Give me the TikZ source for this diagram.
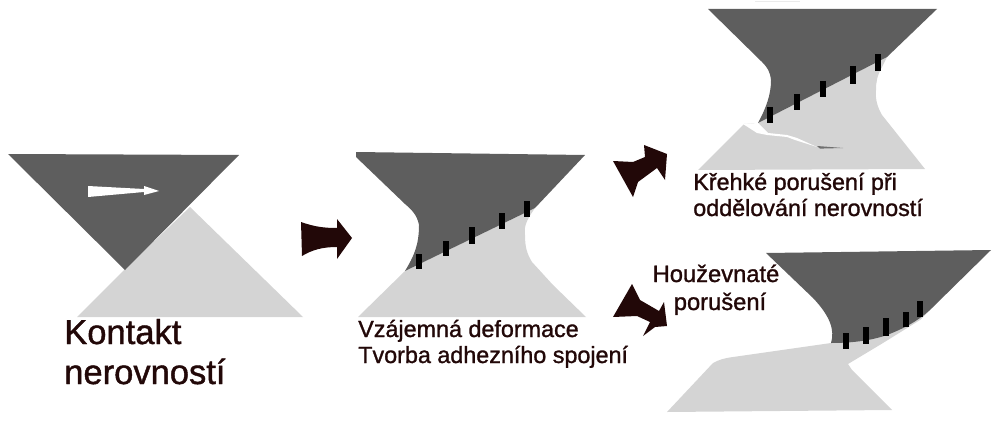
\documentclass[tikz,border=0pt]{standalone}
\usepackage{fontspec}
\setmainfont{Liberation Sans}
\newfontfamily\labfont[FakeBold=1.2]{Liberation Sans}
\definecolor{darkrock}{HTML}{5E5E5E}
\definecolor{lightrock}{HTML}{D4D4D4}
\definecolor{inkbrown}{HTML}{220808}
\tikzset{
  darkpart/.style={fill=darkrock,draw=none},
  lightpart/.style={fill=lightrock,draw=none},
  bigarrow/.style={fill=inkbrown,draw=none},
  tick/.style={draw=black,line width=3.9pt},
  lab/.style={anchor=base west,inner sep=0pt,text=inkbrown,font=\labfont\fontsize{17.5pt}{20pt}\selectfont},
  biglab/.style={anchor=base west,inner sep=0pt,text=inkbrown,font=\labfont\fontsize{25.9pt}{30pt}\selectfont},
  midlab/.style={anchor=base,inner sep=0pt,text=inkbrown,font=\labfont\fontsize{17.8pt}{20pt}\selectfont}
}
\begin{document}
\begin{tikzpicture}[x=0.75pt,y=-0.75pt]
\useasboundingbox (0,0) rectangle (1005,424);
% --- faint mark at the top edge
\draw[draw=black!8,line width=0.8pt] (755,1.5) -- (800,1.5);
% --- contact
\fill[lightpart] (190,207) -- (125,269) -- (77,317) -- (303,317) -- cycle;
\fill[darkpart] (8,154) -- (239,155) -- (125,270) -- cycle;
\fill[white] (88,186) -- (144,189) -- (144,186) -- (159,191) -- (144,195) -- (144,192) -- (88,197) -- cycle;
% --- arrow 1
\fill[bigarrow] (301,222) .. controls (315,227) and (325,228) .. (337,228) -- (337,219) -- (352,238) -- (337,259) -- (337,247) .. controls (322,247) and (312,250) .. (302,256) -- cycle;
% --- deformation
\fill[lightpart] (405,271) -- (535,208) .. controls (525,222) and (524,228) .. (525,235) .. controls (525,247) and (527,254) .. (532,262) -- (553,285) -- (586,317) -- (358,317) -- cycle;
\fill[darkpart] (356,152) -- (585,155) -- (535,208) -- (405,271) .. controls (414,256) and (419,245) .. (419,225) .. controls (417,215) and (412,210) .. (405,204) -- (356,157) -- cycle;
\draw[tick] (419,254) -- (419,269);
\draw[tick] (446,241) -- (446,256);
\draw[tick] (472,227) -- (472,244);
\draw[tick] (502,213) -- (502,229);
\draw[tick] (527,201) -- (527,217);
% --- arrow 2
\fill[bigarrow] (613,161) -- (633,162) -- (645,157) -- (644,145) -- (667,154) -- (665,180) -- (657,168) -- (638,182) -- (633,197) -- cycle;
% --- brittle
\fill[lightpart] (758,123) -- (887,57) -- (882,67) .. controls (877,76) and (876,82) .. (876,90) .. controls (875,100) and (878,108) .. (882,115) -- (925,169) -- (698,170) -- (744,124) -- cycle;
\fill[white] (743,124) -- (758,123) -- (768,133) -- (787,135) -- (797,138) -- (817,147) -- (795,140) -- (787,137) -- (767,135) -- (757,133) -- cycle;
\fill[darkrock!85!lightrock] (817,146) -- (843,148) -- (820,148.6) -- cycle;
\fill[darkpart] (708,9) -- (937,9) -- (887,57) -- (758,123) .. controls (766,108) and (771,95) .. (771,80) .. controls (770,72) and (768,68) .. (762,62) -- cycle;
\draw[tick] (770,107) -- (770,123);
\draw[tick] (797,94) -- (797,110);
\draw[tick] (823,81) -- (823,97);
\draw[tick] (853,66) -- (853,84);
\draw[tick] (878,54) -- (878,71);
% --- arrow 3
\fill[bigarrow] (632,284) -- (640,300) -- (659,311) -- (664,302) -- (667,326) -- (655,327) -- (643,336) -- (650,322) -- (637,316) -- (613,317) -- cycle;
% --- ductile
\fill[lightpart] (831,343) -- (933,307) -- (920,320) -- (883,343) -- (848,364) -- (852,370) -- (892,410) -- (667,412) -- (713,363) .. controls (718,360) and (725,358) .. (733,357) -- (803,347) -- cycle;
\fill[darkpart] (766,253) -- (991,250) -- (933,307) .. controls (920,320) and (905,328) .. (887,335) .. controls (870,341) and (850,343) .. (831,343) .. controls (835,330) and (830,316) .. (813,298) -- cycle;
\draw[tick] (846,333) -- (846,349);
\draw[tick] (866,327) -- (866,344);
\draw[tick] (886,318) -- (886,336);
\draw[tick] (906,312) -- (906,327);
\draw[tick] (920,301) -- (920,317);
% --- text
\node[biglab] (t1) at (64,344) {Kontakt};
\node[biglab] (t2) at (64,384) {nerovností};
\node[lab] (t3) at (358,337) {Vzájemná deformace};
\node[lab] (t4) at (358,363) {Tvorba adhezního spojení};
\node[lab] (t5) at (693,190) {Křehké porušení při};
\node[lab] (t6) at (693,216) {oddělování nerovností};
\node[midlab] (t7) at (716,282) {Houževnaté};
\node[midlab] (t8) at (720,310) {porušení};
\end{tikzpicture}
\end{document}
